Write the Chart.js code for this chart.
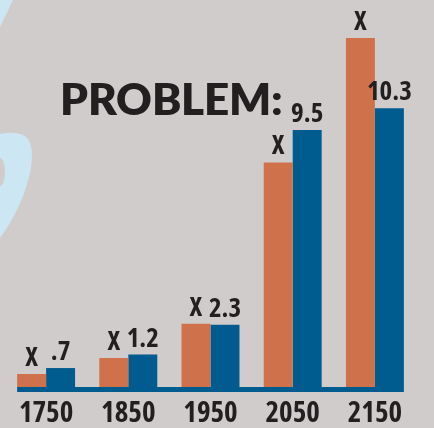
<!DOCTYPE html>
<html>
<head>
<meta charset="utf-8">
<script src="https://cdn.jsdelivr.net/npm/chart.js@4/dist/chart.umd.min.js"></script>
<style>
  @font-face {
    font-family: "HeavyTitle";
    src: local("Lato Black"), local("Lato-Black"), local("Lato Heavy"), local("Lato-Heavy");
  }
  html, body { margin: 0; padding: 0; background: #d1cccc; }
  #wrap { position: relative; width: 434px; height: 428px; overflow: hidden; }
</style>
</head>
<body>
<div id="wrap"><canvas id="myChart" width="434" height="428"></canvas></div>
<script>
// data
const years = ["1750", "1850", "1950", "2050", "2150"];
const orangeValues = [0.48, 1.07, 2.34, 8.3, 12.9];
const blueValues = [0.7, 1.2, 2.3, 9.5, 10.3];
const orangeLabels = ["X", "X", "X", "X", "X"];
const blueLabels = [".7", "1.2", "2.3", "9.5", "10.3"];
const titleText = "PROBLEM:";

const orange = "#cf714b";
const blue = "#005b8e";
const bg = "#d1cccc";
const ink = "#231f20";
const narrow = "'Open Sans', 'DejaVu Sans', sans-serif";

// background + light blue decoration on the left
const backdrop = {
  id: "backdrop",
  beforeDraw(chart) {
    const ctx = chart.ctx;
    ctx.save();
    ctx.fillStyle = bg;
    ctx.fillRect(0, 0, chart.width, chart.height);
    ctx.fillStyle = "#cce6f3";
    ctx.beginPath();
    ctx.moveTo(0, 0);
    ctx.lineTo(13, 0);
    ctx.lineTo(0, 27);
    ctx.closePath();
    ctx.fill();
    ctx.beginPath();
    ctx.moveTo(0, 134);
    ctx.quadraticCurveTo(20, 130, 28, 139);
    ctx.quadraticCurveTo(34, 148, 31, 168);
    ctx.quadraticCurveTo(24, 205, 0, 238);
    ctx.closePath();
    ctx.fill();
    ctx.fillStyle = bg;
    ctx.beginPath();
    ctx.ellipse(0, 172, 5, 14, 0, 0, Math.PI * 2);
    ctx.fill();
    ctx.restore();
  },
};

// blue base strip under the bars, labels above bars, title
const overlay = {
  id: "overlay",
  afterDatasetsDraw(chart) {
    const ctx = chart.ctx;
    const first = chart.getDatasetMeta(0).data[0];
    const last = chart.getDatasetMeta(1).data[years.length - 1];
    const bottom = chart.chartArea.bottom;
    const left = first.x - first.width / 2;
    ctx.save();
    ctx.fillStyle = blue;
    ctx.fillRect(left, bottom, last.x + last.width / 2 - left, 5);

    ctx.fillStyle = ink;
    ctx.textAlign = "center";
    ctx.textBaseline = "alphabetic";
    ctx.font = "bold condensed 27px " + narrow;
    [orangeLabels, blueLabels].forEach((labels, d) => {
      chart.getDatasetMeta(d).data.forEach((bar, i) => {
        ctx.fillText(labels[i], bar.x, bar.y - 8);
      });
    });

    ctx.textAlign = "left";
    ctx.font = "900 44px HeavyTitle, Lato, 'DejaVu Sans', sans-serif";
    ctx.fillText(titleText, 60, 115);
    ctx.restore();
  },
};

function draw() {
  const config = {
    type: "bar",
    data: {
      labels: years,
      datasets: [
        {
          label: "X",
          backgroundColor: orange,
          data: orangeValues,
        },
        {
          label: "Actual",
          backgroundColor: blue,
          data: blueValues,
        },
      ],
    },
    options: {
      responsive: false,
      animation: false,
      layout: { padding: { left: 5, right: 18, top: 0, bottom: -12 } },
      plugins: { legend: { display: false }, tooltip: { enabled: false } },
      datasets: { bar: { categoryPercentage: 0.705, barPercentage: 1 } },
      scales: {
        x: {
          grid: { display: false, drawTicks: false },
          border: { display: false },
          ticks: {
            color: ink,
            padding: 12,
            // weight string carries the condensed stretch into the canvas font
            font: { family: narrow, size: 29, weight: "bold condensed", lineHeight: 1 },
          },
        },
        y: { display: false, min: 0, max: 14.3 },
      },
    },
    plugins: [backdrop, overlay],
  };
  new Chart(document.getElementById("myChart"), config);
}

Promise.all([
  document.fonts.load("bold condensed 28px 'Open Sans'"),
  document.fonts.load("900 44px HeavyTitle"),
]).then(draw, draw);
</script>
</body>
</html>
